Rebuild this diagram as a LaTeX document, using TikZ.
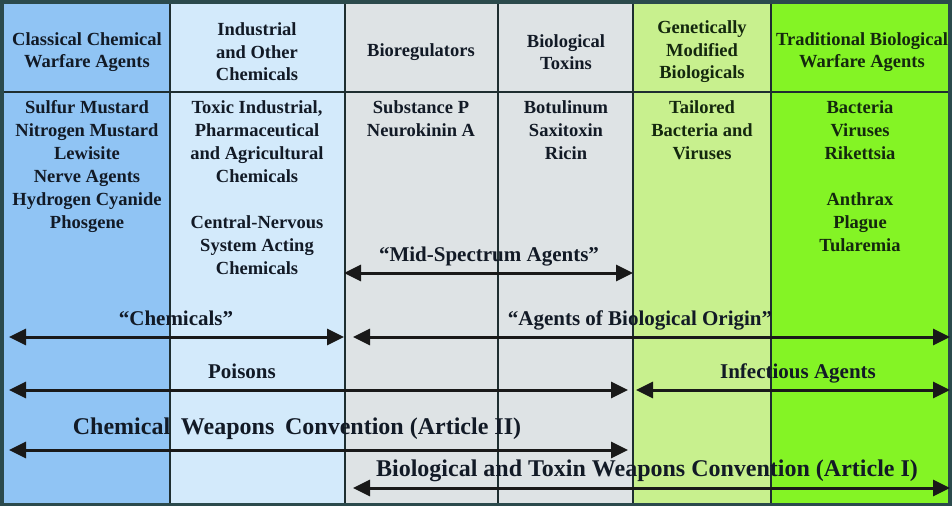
\documentclass[tikz,border=0pt]{standalone}
\usepackage{fontspec}
\setmainfont{Liberation Serif}
\usetikzlibrary{arrows.meta,positioning}
\definecolor{frame}{HTML}{2B4A4C}
\definecolor{gridline}{HTML}{1E2E30}
\definecolor{chemblue}{HTML}{90C4F4}
\definecolor{paleblue}{HTML}{D3EAFB}
\definecolor{greycol}{HTML}{DEE3E5}
\definecolor{palegreen}{HTML}{C8F08E}
\definecolor{lime}{HTML}{84F425}
\definecolor{ink}{HTML}{121A26}
\definecolor{greenink}{HTML}{14280E}
\tikzset{hdr/.style={align=center,font=\bfseries\fontsize{18.5}{22.5}\selectfont,text=ink,inner sep=0pt},greenhdr/.style={hdr,text=greenink},cell/.style={hdr,font=\bfseries\fontsize{18.5}{23}\selectfont},greencell/.style={cell,text=greenink},lbl/.style={font=\bfseries\fontsize{21}{24}\selectfont,text=ink,inner sep=0pt},biglbl/.style={lbl,font=\bfseries\fontsize{24}{27}\selectfont},arr/.style={{Triangle[length=17pt,width=16pt]}-{Triangle[length=17pt,width=16pt]},line width=3pt,draw=black!90},grid/.style={draw=gridline,line width=1.4pt}}
\begin{document}
\begin{tikzpicture}[x=1pt,y=1pt]
\fill[frame] (0,0) rectangle (952,-506);
\foreach \xa/\xb/\col in {4/170/chemblue,170/345/paleblue,345/633/greycol,633/771/palegreen,771/948/lime}{\fill[\col] (\xa,-4) rectangle (\xb,-503);}
\foreach \x in {170,345,498,633,771}{\draw[grid] (\x,-4)--(\x,-503);}
\draw[grid] (4,-92)--(948,-92);
% header row
\node[hdr] (hclassic) at (87,-52) {Classical Chemical\\Warfare Agents};
\node[hdr] (hindustrial) at (257,-52) {Industrial\\and Other\\Chemicals};
\node[hdr] (hbioreg) at (421,-52) {Bioregulators};
\node[hdr] (htoxins) at (566,-52) {Biological\\Toxins};
\node[greenhdr] (hgm) at (702,-52) {Genetically\\Modified\\Biologicals};
\node[greenhdr] (htrad) at (862,-52) {Traditional Biological\\Warfare Agents};
% agents
\node[cell,anchor=north] (classic) at (87,-100) {Sulfur Mustard\\Nitrogen Mustard\\Lewisite\\Nerve Agents\\Hydrogen Cyanide\\Phosgene};
\node[cell,anchor=north] (industrial) at (257,-100) {Toxic Industrial,\\Pharmaceutical\\and Agricultural\\Chemicals\\[23pt]Central-Nervous\\System Acting\\Chemicals};
\node[cell,anchor=north] (bioreg) at (421,-100) {Substance P\\Neurokinin A};
\node[cell,anchor=north] (toxins) at (566,-100) {Botulinum\\Saxitoxin\\Ricin};
\node[greencell,anchor=north] (gm) at (702,-100) {Tailored\\Bacteria and\\Viruses};
\node[greencell,anchor=north] (trad) at (860,-100) {Bacteria\\Viruses\\Rikettsia\\[23pt]Anthrax\\Plague\\Tularemia};
% spans
\coordinate (midL) at (344,-273); \coordinate (midR) at (633,-273);
\coordinate (chemL) at (9,-337); \coordinate (chemR) at (344,-337);
\coordinate (bioL) at (353,-337); \coordinate (bioR) at (950,-337);
\coordinate (poisL) at (9,-390); \coordinate (poisR) at (628,-390);
\coordinate (infL) at (636,-390); \coordinate (infR) at (950,-390);
\coordinate (cwcL) at (9,-450); \coordinate (cwcR) at (628,-450);
\coordinate (btwcL) at (353,-488); \coordinate (btwcR) at (950,-488);
\draw[arr] (midL)--(midR);
\draw[arr] (chemL)--(chemR);
\draw[arr] (bioL)--(bioR);
\draw[arr] (poisL)--(poisR);
\draw[arr] (infL)--(infR);
\draw[arr] (cwcL)--(cwcR);
\draw[arr] (btwcL)--(btwcR);
\node[lbl] (midlbl) at (489,-257) {“Mid-Spectrum Agents”};
\node[lbl] (chemlbl) at (176,-318) {“Chemicals”};
\node[lbl] (biolbl) at (640,-320) {“Agents of Biological Origin”};
\node[lbl] (poislbl) at (242,-371) {Poisons};
\node[lbl] (inflbl) at (798,-373) {Infectious Agents};
\node[biglbl] (cwclbl) at (297,-429) {Chemical\hspace{0.45em}Weapons\hspace{0.45em}Convention (Article II)};
\node[biglbl] (btwclbl) at (647,-471) {Biological and Toxin Weapons Convention (Article I)};
\end{tikzpicture}
\end{document}
